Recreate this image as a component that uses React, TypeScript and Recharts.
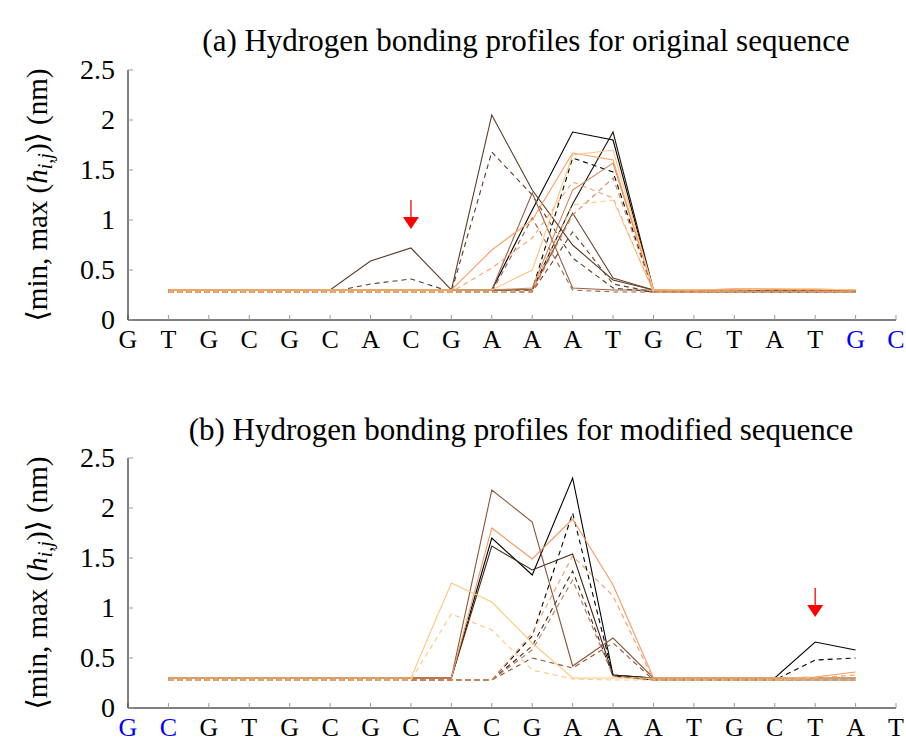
import React from 'react';
import { LineChart, Line, XAxis, YAxis, ReferenceDot } from 'recharts';

// ---------- categories / ticks ----------
const topLabels = ['G', 'T', 'G', 'C', 'G', 'C', 'A', 'C', 'G', 'A', 'A', 'A', 'T', 'G', 'C', 'T', 'A', 'T', 'G', 'C'];
const topBlue = [18, 19];
const bottomLabels = ['G', 'C', 'G', 'T', 'G', 'C', 'G', 'C', 'A', 'C', 'G', 'A', 'A', 'A', 'T', 'G', 'C', 'T', 'A', 'T'];
const bottomBlue = [0, 1];
const xTicks = [0, 1, 2, 3, 4, 5, 6, 7, 8, 9, 10, 11, 12, 13, 14, 15, 16, 17, 18, 19];
const positions = [1, 2, 3, 4, 5, 6, 7, 8, 9, 10, 11, 12, 13, 14, 15, 16, 17, 18];
const yTicks = [0, 0.5, 1, 1.5, 2, 2.5];
const topTitle = '(a) Hydrogen bonding profiles for original sequence';
const bottomTitle = '(b) Hydrogen bonding profiles for modified sequence';
const topArrow = { x: 7, y: 0.91 };
const bottomArrow = { x: 17, y: 0.91 };

// ---------- series, top panel (positions 1..18) ----------
const topBlackA = [0.30, 0.30, 0.30, 0.30, 0.30, 0.30, 0.30, 0.30, 0.30, 1.10, 1.88, 1.80, 0.29, 0.29, 0.30, 0.30, 0.30, 0.29];
const topBlackB = [0.30, 0.30, 0.30, 0.30, 0.30, 0.30, 0.30, 0.30, 0.30, 0.30, 1.16, 1.88, 0.30, 0.29, 0.30, 0.30, 0.30, 0.29];
const topBlackD = [0.28, 0.28, 0.28, 0.28, 0.28, 0.28, 0.28, 0.28, 0.28, 0.30, 1.62, 1.48, 0.28, 0.28, 0.28, 0.28, 0.28, 0.28];
const topDarkS = [0.30, 0.30, 0.30, 0.30, 0.30, 0.59, 0.72, 0.30, 2.05, 1.30, 0.75, 0.40, 0.30, 0.29, 0.30, 0.30, 0.30, 0.29];
const topDarkD = [0.28, 0.28, 0.28, 0.28, 0.28, 0.36, 0.41, 0.28, 1.68, 1.25, 0.62, 0.32, 0.28, 0.28, 0.28, 0.28, 0.28, 0.28];
const topMidS = [0.30, 0.30, 0.30, 0.30, 0.30, 0.30, 0.30, 0.30, 0.30, 0.30, 1.07, 0.42, 0.30, 0.29, 0.30, 0.30, 0.30, 0.29];
const topMidD = [0.28, 0.28, 0.28, 0.28, 0.28, 0.28, 0.28, 0.28, 0.28, 0.28, 0.88, 0.36, 0.28, 0.28, 0.28, 0.28, 0.28, 0.28];
const topBrownS = [0.30, 0.30, 0.30, 0.30, 0.30, 0.30, 0.30, 0.30, 0.30, 1.27, 0.32, 0.30, 0.30, 0.29, 0.30, 0.30, 0.30, 0.29];
const topBrownD = [0.28, 0.28, 0.28, 0.28, 0.28, 0.28, 0.28, 0.28, 0.28, 1.02, 0.30, 0.28, 0.28, 0.28, 0.28, 0.28, 0.28, 0.28];
const topCopperS = [0.30, 0.30, 0.30, 0.30, 0.30, 0.30, 0.30, 0.30, 0.30, 0.32, 1.30, 1.57, 0.30, 0.30, 0.31, 0.31, 0.30, 0.30];
const topCopperD = [0.28, 0.28, 0.28, 0.28, 0.28, 0.28, 0.28, 0.28, 0.28, 0.28, 1.05, 1.42, 0.28, 0.28, 0.28, 0.28, 0.28, 0.28];
const topOrangeS = [0.30, 0.30, 0.30, 0.30, 0.30, 0.30, 0.30, 0.30, 0.70, 1.00, 1.67, 1.60, 0.30, 0.30, 0.31, 0.31, 0.31, 0.30];
const topOrangeD = [0.28, 0.28, 0.28, 0.28, 0.28, 0.28, 0.28, 0.28, 0.52, 0.82, 1.38, 1.22, 0.28, 0.28, 0.29, 0.29, 0.29, 0.28];
const topLightS = [0.30, 0.30, 0.30, 0.30, 0.30, 0.30, 0.30, 0.30, 0.30, 0.50, 1.65, 1.70, 0.30, 0.30, 0.30, 0.31, 0.31, 0.30];
const topLightD = [0.28, 0.28, 0.28, 0.28, 0.28, 0.28, 0.28, 0.28, 0.28, 0.30, 1.15, 1.20, 0.28, 0.28, 0.28, 0.28, 0.28, 0.28];

// ---------- series, bottom panel (positions 1..18) ----------
const botBlackS = [0.30, 0.30, 0.30, 0.30, 0.30, 0.30, 0.30, 0.30, 1.70, 1.33, 2.30, 0.33, 0.30, 0.30, 0.30, 0.30, 0.66, 0.58];
const botBlackD = [0.28, 0.28, 0.28, 0.28, 0.28, 0.28, 0.28, 0.28, 0.28, 0.72, 1.95, 0.32, 0.28, 0.28, 0.28, 0.28, 0.48, 0.50];
const botDarkS = [0.30, 0.30, 0.30, 0.30, 0.30, 0.30, 0.30, 0.30, 1.62, 1.38, 1.54, 0.33, 0.30, 0.30, 0.30, 0.30, 0.30, 0.30];
const botDarkD = [0.28, 0.28, 0.28, 0.28, 0.28, 0.28, 0.28, 0.28, 0.28, 0.62, 1.37, 0.32, 0.28, 0.28, 0.28, 0.28, 0.28, 0.28];
const botBrownS = [0.30, 0.30, 0.30, 0.30, 0.30, 0.30, 0.30, 0.30, 2.18, 1.86, 0.42, 0.70, 0.30, 0.30, 0.30, 0.30, 0.30, 0.30];
const botBrownD = [0.28, 0.28, 0.28, 0.28, 0.28, 0.28, 0.28, 0.28, 0.28, 0.50, 0.40, 0.65, 0.28, 0.28, 0.28, 0.28, 0.28, 0.28];
const botCopperD = [0.28, 0.28, 0.28, 0.28, 0.28, 0.28, 0.28, 0.28, 0.28, 0.58, 1.28, 0.32, 0.28, 0.28, 0.28, 0.28, 0.28, 0.28];
const botOrangeS = [0.30, 0.30, 0.30, 0.30, 0.30, 0.30, 0.30, 0.30, 1.80, 1.49, 1.89, 1.23, 0.30, 0.30, 0.30, 0.30, 0.31, 0.36];
const botOrangeD = [0.28, 0.28, 0.28, 0.28, 0.28, 0.28, 0.28, 0.28, 0.28, 0.75, 1.52, 1.12, 0.28, 0.28, 0.28, 0.28, 0.30, 0.33];
const botLightS = [0.30, 0.30, 0.30, 0.30, 0.30, 0.30, 0.30, 1.25, 1.06, 0.65, 0.30, 0.30, 0.30, 0.30, 0.30, 0.30, 0.30, 0.30];
const botLightD = [0.28, 0.28, 0.28, 0.28, 0.28, 0.28, 0.28, 0.94, 0.78, 0.38, 0.29, 0.28, 0.28, 0.28, 0.28, 0.28, 0.28, 0.28];

type Series = { key: string; values: number[]; color: string; dashed: boolean };

const topSeries: Series[] = [
  { key: 'blackA', values: topBlackA, color: '#000000', dashed: false },
  { key: 'blackB', values: topBlackB, color: '#1e130c', dashed: false },
  { key: 'blackD', values: topBlackD, color: '#000000', dashed: true },
  { key: 'darkS', values: topDarkS, color: '#5c3b25', dashed: false },
  { key: 'darkD', values: topDarkD, color: '#5c3b25', dashed: true },
  { key: 'midS', values: topMidS, color: '#6e452c', dashed: false },
  { key: 'midD', values: topMidD, color: '#6e452c', dashed: true },
  { key: 'brownS', values: topBrownS, color: '#9a6040', dashed: false },
  { key: 'brownD', values: topBrownD, color: '#9a6040', dashed: true },
  { key: 'copperS', values: topCopperS, color: '#d5855a', dashed: false },
  { key: 'copperD', values: topCopperD, color: '#d5855a', dashed: true },
  { key: 'orangeS', values: topOrangeS, color: '#ff9f65', dashed: false },
  { key: 'orangeD', values: topOrangeD, color: '#ff9f65', dashed: true },
  { key: 'lightS', values: topLightS, color: '#ffc77f', dashed: false },
  { key: 'lightD', values: topLightD, color: '#ffc77f', dashed: true },
];

const bottomSeries: Series[] = [
  { key: 'blackS', values: botBlackS, color: '#000000', dashed: false },
  { key: 'blackD', values: botBlackD, color: '#000000', dashed: true },
  { key: 'darkS', values: botDarkS, color: '#402819', dashed: false },
  { key: 'darkD', values: botDarkD, color: '#402819', dashed: true },
  { key: 'brownS', values: botBrownS, color: '#8a5636', dashed: false },
  { key: 'brownD', values: botBrownD, color: '#8a5636', dashed: true },
  { key: 'copperD', values: botCopperD, color: '#bf784c', dashed: true },
  { key: 'orangeS', values: botOrangeS, color: '#f79a62', dashed: false },
  { key: 'orangeD', values: botOrangeD, color: '#f79a62', dashed: true },
  { key: 'lightS', values: botLightS, color: '#ffc77f', dashed: false },
  { key: 'lightD', values: botLightD, color: '#ffc77f', dashed: true },
];

const SERIF = '"Liberation Serif", "Times New Roman", "DejaVu Serif", serif';

function buildRows(series: Series[]) {
  return positions.map((p, i) => {
    const r: Record<string, number> = { x: p };
    series.forEach((s) => {
      r[s.key] = s.values[i];
    });
    return r;
  });
}

const ArrowShape = (props: any) => {
  const { cx, cy } = props;
  if (cx == null || cy == null) return null;
  return (
    <g>
      <line x1={cx} y1={cy - 29} x2={cx} y2={cy - 11} stroke="#ff0000" strokeWidth={1.3} />
      <polygon points={`${cx - 8},${cy - 12} ${cx + 8},${cy - 12} ${cx},${cy}`} fill="#ff0000" />
    </g>
  );
};

const makeXTick = (labels: string[], blue: number[]) => (props: any) => {
  const { x, y, payload } = props;
  const i = payload.value as number;
  return (
    <text
      x={x}
      y={y}
      textAnchor="middle"
      style={{ fontFamily: SERIF, fontSize: 26 }}
      fill={blue.includes(i) ? '#0000ff' : '#000000'}
    >
      {labels[i]}
    </text>
  );
};

const YTick = (props: any) => {
  const { x, y, payload } = props;
  return (
    <text x={x} y={y} dy="0.33em" textAnchor="end" style={{ fontFamily: SERIF, fontSize: 28 }} fill="#000">
      {String(payload.value)}
    </text>
  );
};

function Panel({ labels, blue, series, arrow }: { labels: string[]; blue: number[]; series: Series[]; arrow: { x: number; y: number } }) {
  const rows = buildRows(series);
  return (
    <LineChart width={906} height={370} data={rows} margin={{ top: 70, right: 10, bottom: 10, left: 0 }}>
      <XAxis
        dataKey="x"
        type="number"
        domain={[0, 19]}
        ticks={xTicks}
        interval={0}
        height={40}
        tickSize={-5}
        tickMargin={33}
        axisLine={{ stroke: '#000', strokeWidth: 1 }}
        tickLine={{ stroke: '#999' }}
        tick={makeXTick(labels, blue)}
      />
      <XAxis
        xAxisId="top"
        orientation="top"
        type="number"
        domain={[0, 19]}
        ticks={xTicks}
        interval={0}
        height={0}
        tickSize={-5}
        axisLine={{ stroke: '#000', strokeWidth: 1 }}
        tickLine={{ stroke: '#999' }}
        tick={false}
      />
      <YAxis
        type="number"
        domain={[0, 2.5]}
        ticks={yTicks}
        interval={0}
        width={128}
        tickSize={-5}
        tickMargin={18}
        axisLine={{ stroke: '#000', strokeWidth: 1 }}
        tickLine={{ stroke: '#999' }}
        tick={YTick}
      />
      <YAxis
        yAxisId="right"
        orientation="right"
        type="number"
        domain={[0, 2.5]}
        ticks={yTicks}
        interval={0}
        width={0}
        tickSize={-5}
        axisLine={{ stroke: '#000', strokeWidth: 1 }}
        tickLine={{ stroke: '#999' }}
        tick={false}
      />
      {series.map((s) => (
        <Line
          key={s.key}
          type="linear"
          dataKey={s.key}
          stroke={s.color}
          strokeWidth={1.1}
          strokeDasharray={s.dashed ? '5 4' : undefined}
          dot={false}
          activeDot={false}
          isAnimationActive={false}
        />
      ))}
      <ReferenceDot x={arrow.x} y={arrow.y} r={0} ifOverflow="visible" shape={ArrowShape} />
    </LineChart>
  );
}

const YLabel = ({ cy }: { cy: number }) => (
  <text
    transform={`translate(47, ${cy}) rotate(-90)`}
    textAnchor="middle"
    style={{ fontFamily: SERIF, fontSize: 29 }}
    fill="#000"
  >
    ⟨min, max (<tspan fontStyle="italic">h</tspan>
    <tspan fontStyle="italic" style={{ fontSize: 20 }} dy={5}>i,j</tspan>
    <tspan dy={-5}>)⟩ (nm)</tspan>
  </text>
);

export default function App() {
  return (
    <div style={{ position: 'absolute', left: 0, top: 0, width: 906, height: 743, background: '#fff', overflow: 'hidden' }}>
      <div style={{ position: 'absolute', left: 0, top: 0 }}>
        <Panel labels={topLabels} blue={topBlue} series={topSeries} arrow={topArrow} />
      </div>
      <div style={{ position: 'absolute', left: 0, top: 388 }}>
        <Panel labels={bottomLabels} blue={bottomBlue} series={bottomSeries} arrow={bottomArrow} />
      </div>
      <svg width={906} height={743} style={{ position: 'absolute', left: 0, top: 0, pointerEvents: 'none' }}>
        <text x={526} y={51} textAnchor="middle" style={{ fontFamily: SERIF, fontSize: 31 }} fill="#000">
          {topTitle}
        </text>
        <text x={521} y={440} textAnchor="middle" style={{ fontFamily: SERIF, fontSize: 31 }} fill="#000">
          {bottomTitle}
        </text>
        <YLabel cy={195} />
        <YLabel cy={583} />
      </svg>
    </div>
  );
}
